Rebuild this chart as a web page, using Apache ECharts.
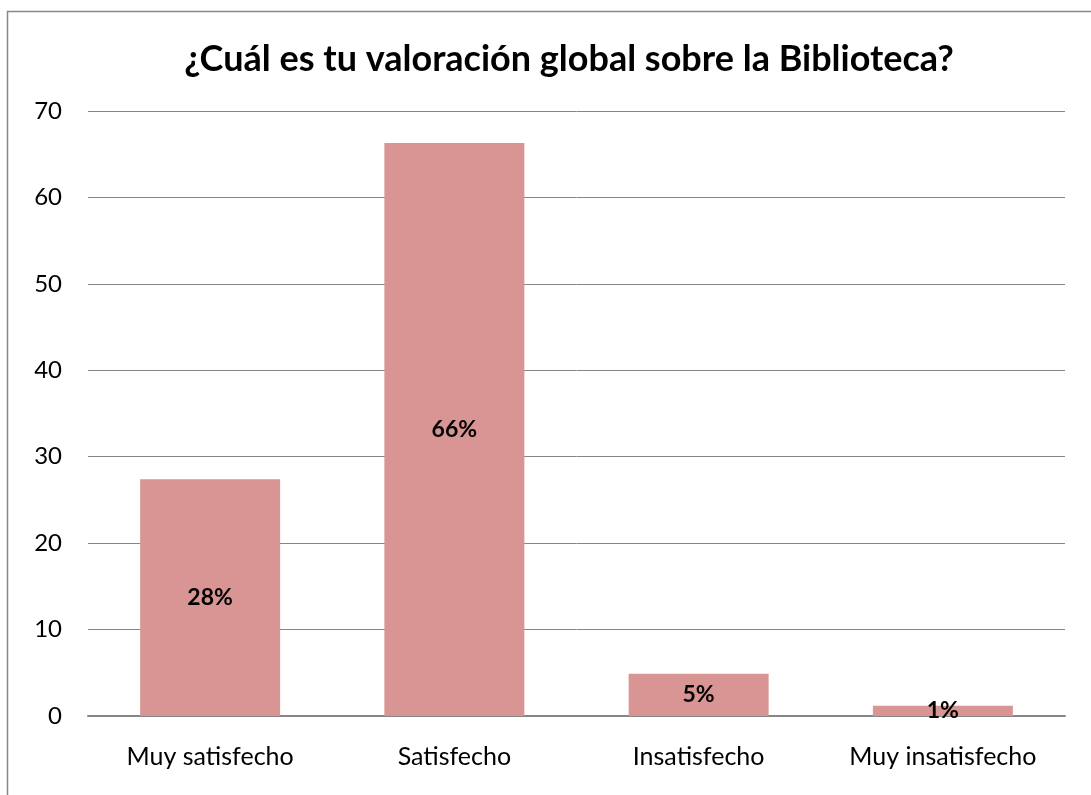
<!DOCTYPE html>
<html><head><meta charset="utf-8">
<script src="https://cdn.jsdelivr.net/npm/echarts@6/dist/echarts.min.js"></script>
<style>html,body{margin:0;padding:0;background:#fff;}#c{width:1091px;height:795px;}</style>
</head><body><div id="c"></div>
<script>
var categories = ['Muy satisfecho', 'Satisfecho', 'Insatisfecho', 'Muy insatisfecho'];
var values = [27.4, 66.3, 4.9, 1.2];
var pctLabels = ['28%', '66%', '5%', '1%'];
var yTicks = {min: 0, max: 70, interval: 10};

var font = 'Lato, "Open Sans", sans-serif';
var chart = echarts.init(document.getElementById('c'));
chart.setOption({
  animation: false,
  backgroundColor: '#fff',
  title: {
    text: '¿Cuál es tu valoración global sobre la Biblioteca?',
    left: 564, top: 36, textAlign: 'center',
    textStyle: {fontFamily: font, fontSize: 36, fontWeight: 'bold', color: '#000'}
  },
  graphic: [{type: 'rect', shape: {x: 7.5, y: 11.5, width: 1100, height: 800}, style: {fill: 'none', stroke: '#888', lineWidth: 1.5}}],
  grid: {left: 88, right: 26, top: 111, bottom: 79, containLabel: false},
  xAxis: {
    type: 'category', data: categories,
    axisLine: {lineStyle: {color: '#868686', width: 2}},
    axisTick: {show: false},
    axisLabel: {fontFamily: font, fontSize: 25, color: '#000', margin: 28}
  },
  yAxis: {
    type: 'value', min: yTicks.min, max: yTicks.max, interval: yTicks.interval,
    axisLine: {show: false}, axisTick: {show: false},
    splitLine: {lineStyle: {color: '#868686', width: 1}},
    axisLabel: {fontFamily: font, fontSize: 24, color: '#000', margin: 26}
  },
  series: [{
    type: 'bar', data: values, barWidth: 140,
    itemStyle: {color: '#d99594'},
    label: {show: true, position: 'inside', fontFamily: font, fontSize: 23, fontWeight: 'bold', color: '#000',
      formatter: function (p) { return pctLabels[p.dataIndex]; }}
  }]
});
</script></body></html>
